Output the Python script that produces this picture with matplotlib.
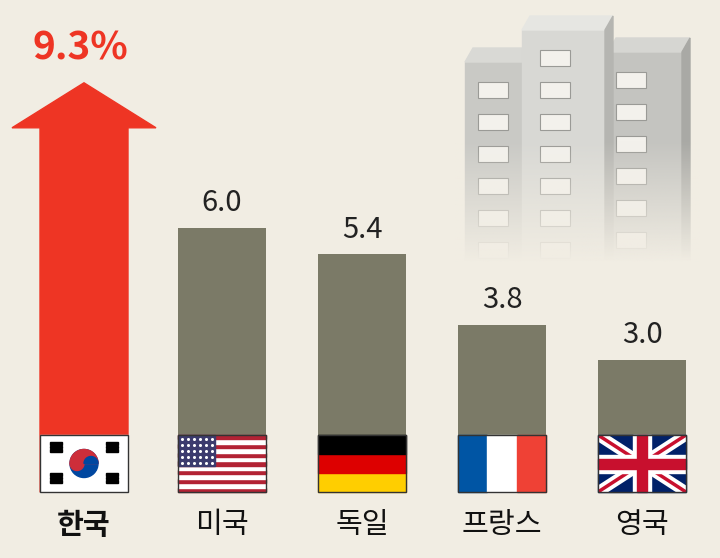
import matplotlib
matplotlib.use("Agg")
import matplotlib.pyplot as plt
import numpy as np
from matplotlib.patches import Rectangle, Polygon, Ellipse

countries = ["한국", "미국", "독일", "프랑스", "영국"]
values = [9.3, 6.0, 5.4, 3.8, 3.0]
value_labels = ["9.3%", "6.0", "5.4", "3.8", "3.0"]

BG = "#f1ede3"
fig = plt.figure(figsize=(7.2, 5.58), dpi=100, facecolor=BG)
ax = fig.add_axes([0, 0, 1, 1])
ax.set_facecolor(BG)
K = 44.0
def py(y):
    return (492 - y) / K
ax.set_xlim(0, 720)
ax.set_ylim(py(558), py(0))
ax.axis("off")
FONT = ["Noto Sans CJK KR", "DejaVu Sans"]

# building decoration
def block(x0, x1, ytop, face, side, roof, wins):
    ax.add_patch(Polygon([(x0, py(ytop)), (x1, py(ytop)), (x1, py(260)), (x0, py(260))], closed=True, color=face, zorder=1))
    ax.add_patch(Polygon([(x0 + 8, py(ytop - 14)), (x1 + 8, py(ytop - 14)), (x1, py(ytop)), (x0, py(ytop))], closed=True, color=roof, zorder=1))
    ax.add_patch(Polygon([(x1, py(ytop)), (x1 + 8, py(ytop - 14)), (x1 + 8, py(260)), (x1, py(260))], closed=True, color=side, zorder=1))
    for wx in wins:
        for wy in range(ytop + 20, 250, 32):
            ax.add_patch(Rectangle((wx, py(wy + 16)), 30, 16 / K, facecolor="#f3f1ec", edgecolor="#9a9a96", lw=0.8, zorder=1.1))
block(465, 525, 62, "#c9c9c5", "#adada9", "#d9d9d5", [478])
block(608, 682, 52, "#c4c4c0", "#a9a9a5", "#d6d6d2", [616])
block(522, 605, 30, "#d8d8d4", "#b5b5b1", "#e6e6e2", [540])
grad = np.zeros((100, 1, 4))
grad[..., :3] = matplotlib.colors.to_rgb(BG)
grad[:, 0, 3] = np.linspace(0, 1, 100)
ax.imshow(grad, extent=(455, 700, py(262), py(140)), aspect="auto", zorder=1.5)

centers = [84, 222, 362, 502, 642]
W = 88
v0 = values[0]
head = 45 / K
ax.add_patch(Polygon([(centers[0] - W / 2, 0), (centers[0] + W / 2, 0),
                      (centers[0] + W / 2, v0 - head), (centers[0] + 72, v0 - head),
                      (centers[0], v0), (centers[0] - 72, v0 - head),
                      (centers[0] - W / 2, v0 - head)], closed=True, color="#ee3524", zorder=2))
ax.bar(centers[1:], values[1:], width=W, bottom=0, color="#7b7a67", zorder=2)

for i, (cx, v, lab) in enumerate(zip(centers, values, value_labels)):
    if i == 0:
        ax.text(cx - 4, py(48), lab, ha="center", va="center", fontsize=28, color="#ee3524",
                family=FONT, fontweight="bold")
    else:
        ax.text(cx, v + 0.22, lab, ha="center", va="bottom", fontsize=21, color="#222222", family=FONT)
    ax.text(cx, py(525), countries[i], ha="center", va="center", fontsize=21, family=FONT,
            fontweight="bold" if i == 0 else "normal", color="#111111")

fh = py(435)
def frame(cx):
    ax.add_patch(Rectangle((cx - W / 2, 0), W, fh, fill=False, edgecolor="#333333", lw=1, zorder=4))

# Korea flag
cx = centers[0]
ax.add_patch(Rectangle((cx - W / 2, 0), W, fh, color="white", zorder=3))
r = 14
ax.add_patch(Ellipse((cx, fh / 2), 2 * r, 2 * r / K, color="#0047a0", zorder=3.1))
th = np.linspace(0, np.pi, 40)
ax.add_patch(Polygon(np.c_[cx + r * np.cos(th), fh / 2 + r / K * np.sin(th)], color="#cd2e3a", zorder=3.2))
th2 = np.linspace(np.pi, 2 * np.pi, 20)
ax.add_patch(Polygon(np.c_[cx - r / 2 + r / 2 * np.cos(th2), fh / 2 + r / 2 / K * np.sin(th2)], color="#cd2e3a", zorder=3.3))
th3 = np.linspace(0, np.pi, 20)
ax.add_patch(Polygon(np.c_[cx + r / 2 + r / 2 * np.cos(th3), fh / 2 + r / 2 / K * np.sin(th3)], color="#0047a0", zorder=3.3))
for (dx, dy) in [(-28, 1), (28, 1), (-28, -1), (28, -1)]:
    for k in range(3):
        ax.add_patch(Rectangle((cx + dx - 6, fh / 2 + dy * (12 + k * 3.5) / K), 12, 2.5 / K,
                               color="black", zorder=3.2))
frame(cx)
# USA
cx = centers[1]
sh = fh / 13
for k in range(13):
    ax.add_patch(Rectangle((cx - W / 2, k * sh), W, sh, color="#b22234" if k % 2 == 0 else "white", zorder=3))
ax.add_patch(Rectangle((cx - W / 2, fh - 7 * sh), W * 0.42, 7 * sh, color="#3c3b6e", zorder=3.1))
for a in range(6):
    for b in range(5):
        ax.plot(cx - W / 2 + 3.5 + a * 6, fh - 7 * sh + (3 + b * 6) / K, "o", ms=1.2, color="white", zorder=3.2)
frame(cx)
# Germany
cx = centers[2]
for k, col in enumerate(["#ffce00", "#dd0000", "#000000"]):
    ax.add_patch(Rectangle((cx - W / 2, k * fh / 3), W, fh / 3, color=col, zorder=3))
frame(cx)
# France
cx = centers[3]
for k, col in enumerate(["#0055a4", "white", "#ef4135"]):
    ax.add_patch(Rectangle((cx - W / 2 + k * W / 3, 0), W / 3, fh, color=col, zorder=3))
frame(cx)
# UK
cx = centers[4]
bgrect = Rectangle((cx - W / 2, 0), W, fh, color="#012169", zorder=3)
ax.add_patch(bgrect)
x0, x1 = cx - W / 2, cx + W / 2
for lw_, col, z in [(8, "white", 3.1), (2.5, "#c8102e", 3.2)]:
    for ys in [(0, fh), (fh, 0)]:
        ln, = ax.plot([x0, x1], ys, color=col, lw=lw_, zorder=z, solid_capstyle="butt")
        ln.set_clip_path(bgrect)
ax.add_patch(Rectangle((x0, fh / 2 - 9 / K), W, 18 / K, color="white", zorder=3.3))
ax.add_patch(Rectangle((cx - 9, 0), 18, fh, color="white", zorder=3.3))
ax.add_patch(Rectangle((x0, fh / 2 - 5 / K), W, 10 / K, color="#c8102e", zorder=3.4))
ax.add_patch(Rectangle((cx - 5, 0), 10, fh, color="#c8102e", zorder=3.4))
frame(cx)

fig.savefig("out.png", dpi=100, facecolor=BG)
